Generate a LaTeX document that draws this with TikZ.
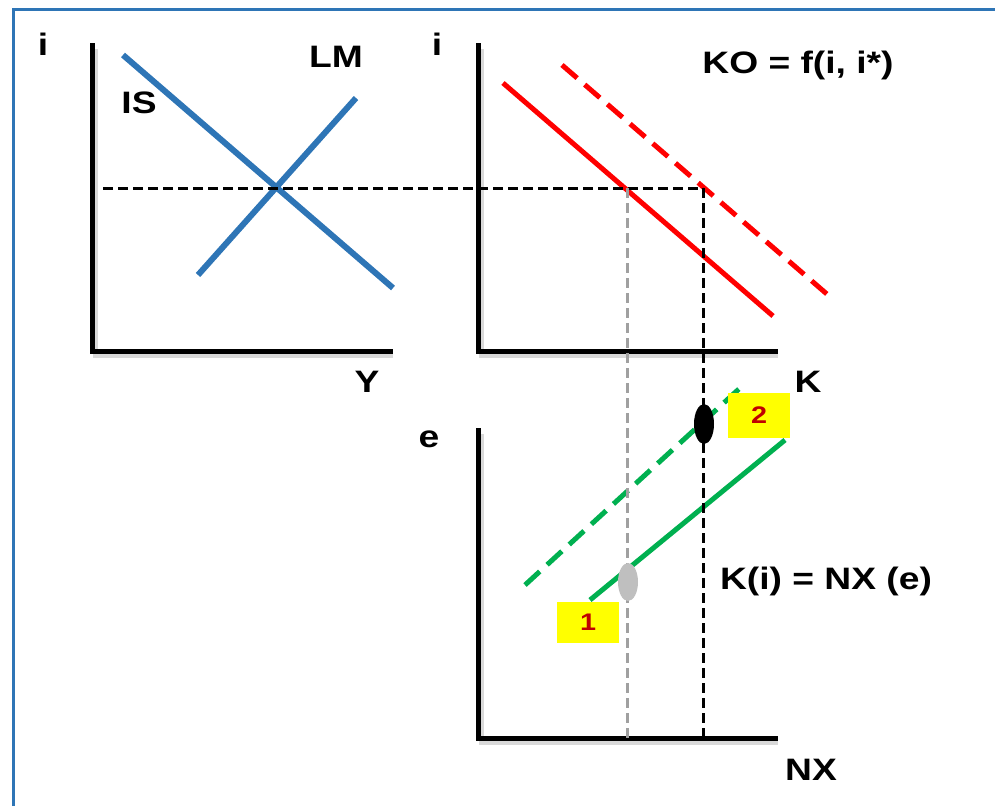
\documentclass[tikz,border=0pt]{standalone}
\usepackage{fontspec}
\setmainfont{Liberation Sans}[FakeStretch=1.2]
\usetikzlibrary{shapes.geometric}
\definecolor{frameblue}{HTML}{2E75B6}
\definecolor{curveblue}{HTML}{2E75B6}
\definecolor{kored}{HTML}{FF0000}
\definecolor{nxgreen}{HTML}{00B050}
\definecolor{boxyellow}{HTML}{FFFF00}
\definecolor{numred}{HTML}{C00000}
\definecolor{dotgrey}{HTML}{BFBFBF}
\definecolor{lineGrey}{HTML}{A0A0A0}
\begin{document}
\begin{tikzpicture}[x=1pt,y=-1pt,
  axis/.style={line width=5pt, line cap=rect},
  axshadow/.style={line width=5pt, black, opacity=0.15},
  lbl/.style={font=\bfseries\fontsize{31}{31}\selectfont, inner sep=0pt, anchor=base},
  bluecurve/.style={curveblue, line width=6pt},
  redcurve/.style={kored, line width=5pt},
  greencurve/.style={nxgreen, line width=5pt},
  bigdash/.style={dash pattern=on 20pt off 10pt},
  guide/.style={line width=3pt, dash pattern=on 10pt off 5pt},
  numbox/.style={fill=boxyellow, text=numred, font=\bfseries\fontsize{24}{24}\selectfont, minimum width=62pt, inner sep=0pt}
]
\useasboundingbox (0,0) rectangle (995,806);
% frame
\coordinate (ftl) at (13,9);
\coordinate (ftr) at (995,9);
\coordinate (fbl) at (13,806);
\draw[frameblue, line width=3pt] (fbl) -- (ftl) -- (ftr);

% ---------- left panel (IS-LM)
\coordinate (La) at (92,45);
\coordinate (Lo) at (92,351);
\coordinate (Lb) at (390,351);
\draw[axshadow] ([shift={(3,4)}]La) -- ([shift={(3,4)}]Lo) -- ([shift={(3,4)}]Lb);
\draw[axis] (La) -- (Lo) -- (Lb);
\node[lbl] (iL) at (43,55) {i};
\node[lbl] (Ylab) at (367,392) {Y};
\coordinate (ISa) at (123,55);
\coordinate (ISb) at (393,288);
\coordinate (LMa) at (198,275);
\coordinate (LMb) at (356,98);
\draw[bluecurve] (ISa) -- (ISb);
\draw[bluecurve] (LMa) -- (LMb);
\node[lbl] (ISlab) at (139,113) {IS};
\node[lbl] (LMlab) at (336,67) {LM};

% ---------- middle panel (capital flows)
\coordinate (Ma) at (478,45);
\coordinate (Mo) at (478,351);
\coordinate (Mb) at (775,351);
\draw[axshadow] ([shift={(3,4)}]Ma) -- ([shift={(3,4)}]Mo) -- ([shift={(3,4)}]Mb);
\draw[axis] (Ma) -- (Mo) -- (Mb);
\node[lbl] (iM) at (437,55) {i};
\node[lbl] (Klab) at (808,392) {K};
\coordinate (R1a) at (503,83);
\coordinate (R1b) at (773,316);
\coordinate (R2a) at (562,65);
\coordinate (R2b) at (828,295);
\draw[redcurve] (R1a) -- (R1b);
\draw[redcurve, bigdash] (R2a) -- (R2b);
\node[lbl] (KOlab) at (798,73) {KO = f(i, i*)};

% ---------- bottom panel (NX)
\coordinate (Ba) at (478,430);
\coordinate (Bo) at (478,738);
\coordinate (Bb) at (775,738);
\draw[axshadow] ([shift={(3,4)}]Ba) -- ([shift={(3,4)}]Bo) -- ([shift={(3,4)}]Bb);
\draw[axis] (Ba) -- (Bo) -- (Bb);
\node[lbl] (elab) at (429,447) {e};
\node[lbl] (NXlab) at (811,780) {NX};
\coordinate (G1a) at (590,600);
\coordinate (G1b) at (785,440);
\coordinate (G2a) at (525,585);
\coordinate (G2b) at (740,388);
\draw[greencurve] (G1a) -- (G1b);
\draw[greencurve, bigdash] (G2a) -- (G2b);
\node[lbl] (Kilab) at (826,589) {K(i) = NX (e)};

% ---------- guide lines
\coordinate (hA) at (103,188);
\coordinate (hB) at (703,188);
\coordinate (gTop) at (627,188);
\coordinate (gBot) at (627,738);
\coordinate (bTop) at (703,188);
\coordinate (bBot) at (703,738);
\draw[guide] (hA) -- (hB);
\draw[guide, lineGrey] (gTop) -- (gBot);
\draw[guide] (bTop) -- (bBot);

% ---------- markers
\node[fill=black, ellipse, minimum width=20pt, minimum height=40pt, inner sep=0pt] (pt2) at (704,424) {};
\node[fill=dotgrey, ellipse, minimum width=20pt, minimum height=38pt, inner sep=0pt] (pt1) at (628,582) {};
\node[numbox, minimum height=45pt] (box2) at (759,415.5) {2};
\node[numbox, minimum height=41pt] (box1) at (588,622.5) {1};
\end{tikzpicture}
\end{document}
